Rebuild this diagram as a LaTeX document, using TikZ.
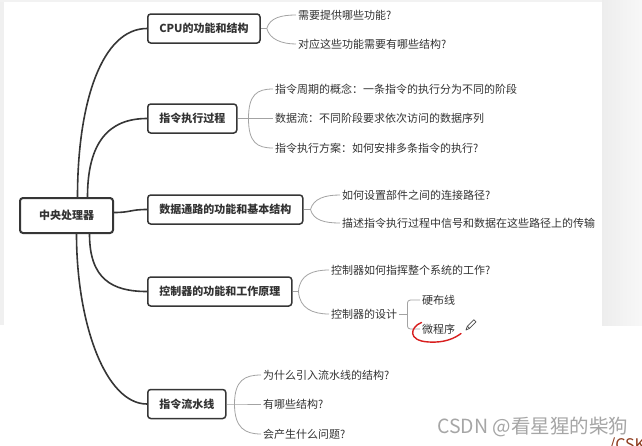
\documentclass[tikz,border=0pt]{standalone}
\usepackage{fontspec}
\setmainfont{Noto Sans CJK SC}
\definecolor{mapdark}{HTML}{363636}
\definecolor{mapgray}{HTML}{A3A3A3}
\definecolor{maptext}{HTML}{333333}
\definecolor{penred}{HTML}{D81E1E}
\definecolor{markgray}{HTML}{A6A6A6}
\definecolor{clubbrown}{HTML}{8E3B1E}
\begin{document}
\begin{tikzpicture}[x=1pt,y=-1pt,
  topic/.style={draw=mapdark, line width=1.5pt, rounded corners=3pt, fill=white,
    text=maptext, font=\fontsize{11}{13}\selectfont\bfseries,
    inner xsep=11.5pt, minimum height=29pt, anchor=west},
  central/.style={topic, line width=2pt, minimum width=93pt, minimum height=35pt, anchor=center},
  leaf/.style={anchor=west, inner xsep=2pt, inner ysep=1pt, text=maptext,
    font=\fontsize{11}{13}\selectfont},
  mainline/.style={draw=mapdark, line width=1.6pt},
  leafline/.style={draw=mapgray, line width=0.8pt}]
\useasboundingbox (0,0) rectangle (642,445);
\clip (0,0) rectangle (642,445);
\fill[white] (0,0) rectangle (642,445);
\fill[black!6] (0,0) rectangle (4,325);
\fill[black!5] (0,0) rectangle (642,2);
\shade[left color=black!7, right color=black!3] (602,0) rectangle (642,325);

\node[central] (core) at (66.5,215.5) {中央处理器};
\node[topic] (func) at (147,28.5) {CPU的功能和结构};
\node[topic] (exec) at (147,118.5) {指令执行过程};
\node[topic] (path) at (147,209.5) {数据通路的功能和基本结构};
\node[topic] (ctrl) at (147,291.5) {控制器的功能和工作原理};
\node[topic] (pipe) at (147,404) {指令流水线};

\node[leaf] (func1) at (296,15) {需要提供哪些功能?};
\node[leaf] (func2) at (296,44) {对应这些功能需要有哪些结构?};
\node[leaf] (exec1) at (273,89) {指令周期的概念：一条指令的执行分为不同的阶段};
\node[leaf] (exec2) at (273,118.5) {数据流：不同阶段要求依次访问的数据序列};
\node[leaf] (exec3) at (273,148) {指令执行方案：如何安排多条指令的执行?};
\node[leaf] (path1) at (340,195) {如何设置部件之间的连接路径?};
\node[leaf] (path2) at (340,223) {描述指令执行过程中信号和数据在这些路径上的传输};
\node[leaf] (ctrl1) at (329,270) {控制器如何指挥整个系统的工作?};
\node[leaf] (ctrl2) at (329,314) {控制器的设计};
\node[leaf] (ctrl3) at (420,300) {硬布线};
\node[leaf] (ctrl4) at (420,329) {微程序};
\node[leaf] (pipe1) at (261,375) {为什么引入流水线的结构?};
\node[leaf] (pipe2) at (261,404) {有哪些结构?};
\node[leaf] (pipe3) at (261,434) {会产生什么问题?};

\draw[mainline] ([xshift=11pt]core.north) .. controls +(0,-95) and +(-45,0) .. (func.west);
\draw[mainline] ([xshift=21pt]core.north) .. controls +(0,-55) and +(-38,0) .. (exec.west);
\draw[mainline] ([yshift=3pt]core.east) .. controls +(17,0) and +(-17,0) .. (path.west);
\draw[mainline] ([xshift=23pt]core.south) .. controls +(0,45) and +(-35,0) .. (ctrl.west);
\draw[mainline] ([xshift=10pt]core.south) .. controls +(0,88) and +(-42,0) .. (pipe.west);

\draw[leafline] (func.east) -- ++(6,0) coordinate (funcj);
\draw[leafline] (funcj) .. controls +(3,-11) and +(-14,0) .. (func1.west);
\draw[leafline] (funcj) .. controls +(3,11) and +(-14,0) .. (func2.west);

\draw[leafline] (exec.east) -- ++(11,0) coordinate (execj) -- (exec2.west);
\draw[leafline] (execj) .. controls +(0,-24) and +(-16,0) .. (exec1.west);
\draw[leafline] (execj) .. controls +(0,24) and +(-16,0) .. (exec3.west);

\draw[leafline] (path.east) -- ++(7,0) coordinate (pathj);
\draw[leafline] (pathj) .. controls +(3,-11) and +(-15,0) .. (path1.west);
\draw[leafline] (pathj) .. controls +(3,11) and +(-15,0) .. (path2.west);

\draw[leafline] (ctrl.east) -- ++(6,0) coordinate (ctrlj);
\draw[leafline] (ctrlj) .. controls +(1,-17) and +(-16,0) .. (ctrl1.west);
\draw[leafline] (ctrlj) .. controls +(1,17) and +(-16,0) .. (ctrl2.west);
\draw[leafline] (ctrl2.east) -- ++(8,0) coordinate (ctrlk);
\draw[leafline, rounded corners=3pt] (ctrl3.west) -| (ctrlk) |- (ctrl4.west);

\draw[leafline] (pipe.east) -- ++(8,0) coordinate (pipej) -- (pipe2.west);
\draw[leafline] (pipej) .. controls +(0,-24) and +(-16,0) .. (pipe1.west);
\draw[leafline] (pipej) .. controls +(0,24) and +(-16,0) .. (pipe3.west);

\draw[penred, line width=1.4pt, line cap=round] (421.5,322.5) .. controls (410,327) and (407,341) .. (429,342)
  .. controls (445,343) and (455,338) .. (461,333.5);
\draw[black!70, line width=0.7pt, line join=round] (466,330) -- (467.3,326.2) -- (473.8,319.7)
  -- (476,321.9) -- (469.5,328.4) -- cycle (467.3,326.2) -- (469.5,328.4);

\node[anchor=west, inner sep=0pt, text=markgray, font=\fontsize{19.5}{24}\selectfont] (mark) at (437,427) {CSDN @看星猩的柴狗};
\node[anchor=base west, inner sep=0pt, text=clubbrown, font=\fontsize{16}{18}\selectfont] (club) at (609,450) {/CSKA};
\end{tikzpicture}
\end{document}
